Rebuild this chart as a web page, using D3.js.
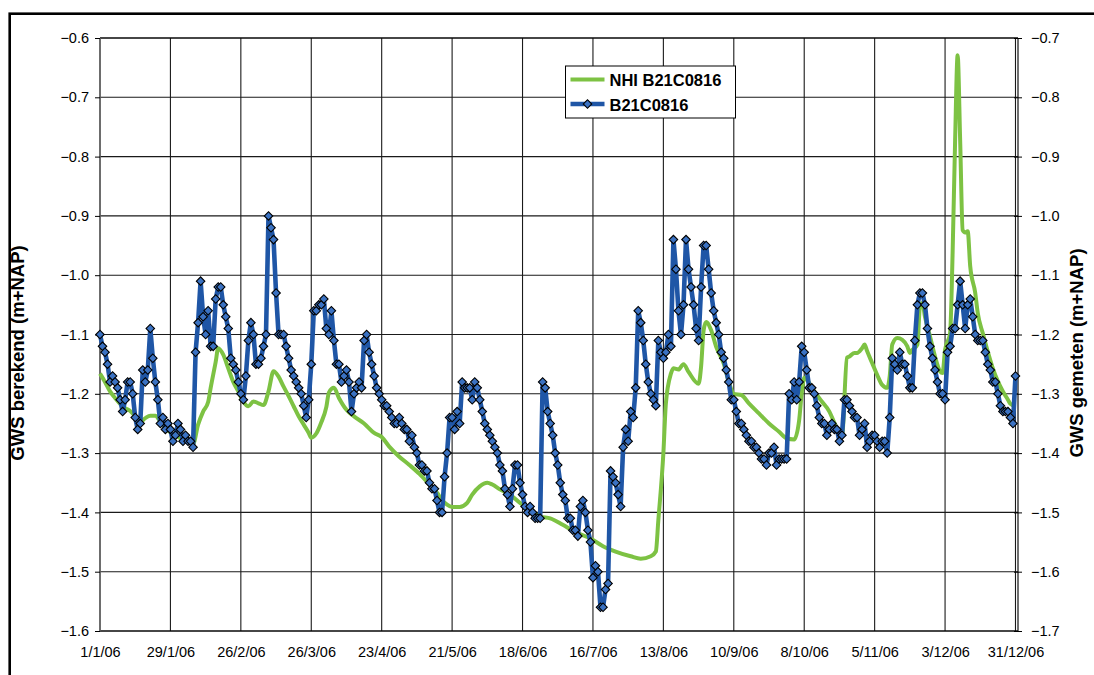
<!DOCTYPE html>
<html>
<head>
<meta charset="utf-8">
<script src="https://cdn.jsdelivr.net/npm/d3@7"></script>
<style>
  body { margin: 0; background: #fff; }
  svg { display: block; }
  text { font-family: "Liberation Sans", Arial, sans-serif; fill: #000; }
</style>
</head>
<body>
<svg id="chart" width="1094" height="675"></svg>
<script>
// ---- data -------------------------------------------------------------
const yearStart = new Date(2006, 0, 1);
const xTickDays = [0, 28, 56, 84, 112, 140, 168, 196, 224, 252, 280, 308, 336, 364];
const leftTicks = [-1.6, -1.5, -1.4, -1.3, -1.2, -1.1, -1.0, -0.9, -0.8, -0.7, -0.6];
const rightTicks = [-1.7, -1.6, -1.5, -1.4, -1.3, -1.2, -1.1, -1.0, -0.9, -0.8, -0.7];

// NHI model result (left axis), day offsets from 1 Jan 2006
const nhiDay = [0,2,4,6,8,10,12,14,16,18,20,22,24,26,28,30,32,34,36,37,39,41,43,44,46,47,49,51,53,55,57,59,61,63,65,67,69,71,73,75,77,79,81,83,84,86,88,90,91,93,95,98,101,105,109,112,115,119,123,127,131,134,136,138,140,143,146,148,151,154,156,159,163,167,171,175,179,184,189,195,200,205,211,215,219,221,222,224,225,227,228,230,232,234,238,239,240,241,243,245,248,250,252,255,258,262,266,270,273,276,278,279,280,282,284,287,290,292,295,297,298,300,301,303,304,305,307,309,311,313,314,315,317,319,321,322,323,325,326,327,328,330,332,334,335,336,338,339,340,341,342,343,344,345,346,348,349,351,353,355,357,359,361,362,364];
const nhiValue = [-1.166,-1.18,-1.196,-1.207,-1.217,-1.224,-1.229,-1.238,-1.247,-1.241,-1.237,-1.237,-1.247,-1.258,-1.265,-1.27,-1.275,-1.279,-1.281,-1.285,-1.252,-1.23,-1.214,-1.19,-1.146,-1.123,-1.134,-1.157,-1.18,-1.196,-1.213,-1.221,-1.213,-1.216,-1.219,-1.196,-1.162,-1.171,-1.188,-1.204,-1.221,-1.238,-1.252,-1.266,-1.274,-1.267,-1.248,-1.222,-1.198,-1.19,-1.207,-1.227,-1.238,-1.25,-1.266,-1.273,-1.289,-1.306,-1.32,-1.335,-1.353,-1.367,-1.379,-1.387,-1.391,-1.391,-1.384,-1.37,-1.356,-1.35,-1.353,-1.361,-1.37,-1.384,-1.395,-1.407,-1.41,-1.421,-1.433,-1.444,-1.457,-1.466,-1.474,-1.478,-1.474,-1.466,-1.413,-1.30,-1.216,-1.166,-1.157,-1.159,-1.15,-1.163,-1.183,-1.154,-1.093,-1.079,-1.093,-1.121,-1.149,-1.18,-1.2,-1.202,-1.216,-1.233,-1.25,-1.264,-1.275,-1.277,-1.244,-1.199,-1.173,-1.182,-1.196,-1.213,-1.23,-1.249,-1.272,-1.139,-1.137,-1.131,-1.131,-1.123,-1.117,-1.128,-1.148,-1.168,-1.185,-1.19,-1.17,-1.117,-1.106,-1.109,-1.12,-1.131,-1.126,-1.117,-1.053,-1.047,-1.07,-1.103,-1.137,-1.162,-1.165,-1.126,-1.098,-0.963,-0.772,-0.629,-0.772,-0.924,-0.928,-0.926,-0.985,-1.03,-1.064,-1.098,-1.129,-1.157,-1.179,-1.196,-1.21,-1.217,-1.221];

// Daily measured heads B21C0816 (right axis), 1 Jan .. 31 Dec 2006
const measured = [
  -1.20,-1.22,-1.23,-1.25,-1.28,-1.27,-1.28,-1.29,-1.31,-1.33,
  -1.31,-1.28,-1.28,-1.30,-1.34,-1.36,-1.35,-1.26,-1.28,-1.26,
  -1.19,-1.24,-1.28,-1.31,-1.35,-1.34,-1.36,-1.35,-1.36,-1.38,
  -1.37,-1.35,-1.36,-1.38,-1.37,-1.38,-1.38,-1.39,-1.23,-1.18,
  -1.11,-1.17,-1.20,-1.16,-1.22,-1.22,-1.14,-1.12,-1.12,-1.15,
  -1.17,-1.19,-1.24,-1.25,-1.26,-1.28,-1.30,-1.31,-1.27,-1.21,
  -1.18,-1.20,-1.25,-1.25,-1.24,-1.22,-1.20,-1.00,-1.02,-1.04,
  -1.13,-1.20,-1.20,-1.20,-1.22,-1.24,-1.26,-1.27,-1.28,-1.29,
  -1.30,-1.32,-1.34,-1.31,-1.25,-1.16,-1.16,-1.15,-1.15,-1.14,
  -1.19,-1.20,-1.16,-1.21,-1.25,-1.25,-1.28,-1.27,-1.26,-1.28,
  -1.33,-1.30,-1.29,-1.28,-1.29,-1.21,-1.20,-1.23,-1.25,-1.27,
  -1.29,-1.30,-1.31,-1.32,-1.32,-1.33,-1.34,-1.35,-1.35,-1.34,
  -1.35,-1.36,-1.36,-1.38,-1.37,-1.39,-1.40,-1.42,-1.42,-1.43,
  -1.43,-1.45,-1.46,-1.46,-1.48,-1.50,-1.50,-1.44,-1.40,-1.34,
  -1.34,-1.36,-1.33,-1.35,-1.28,-1.29,-1.29,-1.29,-1.31,-1.28,
  -1.29,-1.31,-1.33,-1.35,-1.36,-1.37,-1.38,-1.39,-1.40,-1.42,
  -1.43,-1.46,-1.47,-1.49,-1.46,-1.42,-1.42,-1.45,-1.47,-1.49,
  -1.50,-1.49,-1.50,-1.51,-1.51,-1.51,-1.28,-1.29,-1.33,-1.35,
  -1.37,-1.40,-1.42,-1.45,-1.47,-1.48,-1.51,-1.51,-1.53,-1.53,
  -1.54,-1.49,-1.48,-1.50,-1.53,-1.55,-1.61,-1.59,-1.60,-1.66,
  -1.66,-1.63,-1.62,-1.43,-1.44,-1.45,-1.47,-1.49,-1.39,-1.36,
  -1.38,-1.33,-1.34,-1.29,-1.16,-1.18,-1.21,-1.25,-1.28,-1.30,
  -1.31,-1.32,-1.21,-1.23,-1.24,-1.23,-1.20,-1.22,-1.04,-1.09,
  -1.16,-1.20,-1.15,-1.04,-1.09,-1.12,-1.15,-1.19,-1.21,-1.12,
  -1.05,-1.05,-1.09,-1.13,-1.16,-1.18,-1.20,-1.23,-1.24,-1.26,
  -1.28,-1.31,-1.31,-1.33,-1.35,-1.35,-1.36,-1.37,-1.38,-1.38,
  -1.39,-1.39,-1.40,-1.41,-1.41,-1.42,-1.40,-1.40,-1.39,-1.42,
  -1.41,-1.41,-1.41,-1.41,-1.30,-1.31,-1.28,-1.31,-1.28,-1.22,
  -1.23,-1.26,-1.29,-1.29,-1.30,-1.32,-1.34,-1.35,-1.35,-1.37,
  -1.36,-1.35,-1.36,-1.36,-1.38,-1.37,-1.31,-1.31,-1.32,-1.33,
  -1.34,-1.34,-1.37,-1.36,-1.35,-1.39,-1.38,-1.37,-1.37,-1.38,
  -1.39,-1.38,-1.38,-1.40,-1.34,-1.24,-1.25,-1.26,-1.23,-1.25,
  -1.25,-1.27,-1.29,-1.29,-1.21,-1.15,-1.13,-1.13,-1.15,-1.19,
  -1.22,-1.24,-1.26,-1.28,-1.30,-1.30,-1.31,-1.23,-1.22,-1.19,
  -1.19,-1.15,-1.11,-1.15,-1.19,-1.15,-1.14,-1.17,-1.20,-1.21,
  -1.21,-1.21,-1.23,-1.25,-1.26,-1.28,-1.28,-1.30,-1.32,-1.33,
  -1.33,-1.33,-1.34,-1.35,-1.27
];

const seriesNames = ["NHI B21C0816", "B21C0816"];
const leftTitle = "GWS berekend (m+NAP)";
const rightTitle = "GWS gemeten (m+NAP)";

// ---- layout -------------------------------------------------------------
const plot = { left: 100, right: 1018, top: 38, bottom: 631 };
const green = "#7dc243";
const blue = "#1f56a6";
const markerFill = "#3b72c2";

const svg = d3.select("#chart");
const day = d => d3.timeDay.offset(yearStart, d);

const x = d3.scaleTime()
  .domain([yearStart, new Date(2007, 0, 1)])
  .range([plot.left, plot.right]);
const yL = d3.scaleLinear().domain([-1.6, -0.6]).range([plot.bottom, plot.top]);
const yR = d3.scaleLinear().domain([-1.7, -0.7]).range([plot.bottom, plot.top]);

// outer chart frame
svg.append("rect")
  .attr("x", 9.7).attr("y", 13.7)
  .attr("width", 1200).attr("height", 1000)
  .attr("fill", "none").attr("stroke", "#000").attr("stroke-width", 2.6);

// gridlines
const grid = svg.append("g");
grid.selectAll("line.h").data(leftTicks).join("line")
  .attr("x1", plot.left).attr("x2", plot.right)
  .attr("y1", d => yL(d)).attr("y2", d => yL(d))
  .attr("stroke", "#1a1a1a").attr("stroke-width", 1.1);
grid.selectAll("line.v").data(xTickDays).join("line")
  .attr("x1", d => x(day(d))).attr("x2", d => x(day(d)))
  .attr("y1", plot.top).attr("y2", plot.bottom)
  .attr("stroke", "#1a1a1a").attr("stroke-width", 1.1);

// plot border
svg.append("line").attr("x1", plot.left).attr("x2", plot.right)
  .attr("y1", plot.top).attr("y2", plot.top).attr("stroke", "#000").attr("stroke-width", 1);
svg.append("line").attr("x1", plot.left).attr("x2", plot.right)
  .attr("y1", plot.bottom).attr("y2", plot.bottom).attr("stroke", "#000").attr("stroke-width", 1.2);
svg.append("line").attr("x1", plot.left).attr("x2", plot.left)
  .attr("y1", plot.top).attr("y2", plot.bottom).attr("stroke", "#666").attr("stroke-width", 1.5);
svg.append("line").attr("x1", plot.right).attr("x2", plot.right)
  .attr("y1", plot.top).attr("y2", plot.bottom).attr("stroke", "#111").attr("stroke-width", 1.2);

// axes
const fmt = d3.format(".1f");
const leftAxis = svg.append("g")
  .attr("transform", `translate(${plot.left},0)`)
  .call(d3.axisLeft(yL).tickValues(leftTicks).tickSize(5).tickPadding(6).tickFormat(fmt));
const rightAxis = svg.append("g")
  .attr("transform", `translate(${plot.right},0)`)
  .call(d3.axisRight(yR).tickValues(rightTicks).tickSize(4).tickPadding(9).tickFormat(fmt));
const bottomAxis = svg.append("g")
  .attr("transform", `translate(0,${plot.bottom})`)
  .call(d3.axisBottom(x).tickValues(xTickDays.map(day)).tickSize(0).tickPadding(16)
    .tickFormat(d3.timeFormat("%-d/%-m/%y")));
[leftAxis, rightAxis, bottomAxis].forEach(g => {
  g.select(".domain").remove();
  g.selectAll("text").style("font-size", "14.5px")
    .style("font-family", '"Liberation Sans", Arial, sans-serif');
  g.selectAll(".tick line").attr("stroke", "#000");
});
rightAxis.selectAll(".tick line").attr("x1", -4);

// axis titles
svg.append("text")
  .attr("transform", "translate(24,353) rotate(-90)")
  .attr("text-anchor", "middle")
  .style("font-size", "18.5px").style("font-weight", "bold")
  .text(leftTitle);
svg.append("text")
  .attr("transform", "translate(1083,353) rotate(-90)")
  .attr("text-anchor", "middle")
  .style("font-size", "18.5px").style("font-weight", "bold")
  .text(rightTitle);

// NHI model line
const nhiData = nhiDay.map((d, i) => ({ date: day(d), v: nhiValue[i] }));
svg.append("path")
  .datum(nhiData)
  .attr("fill", "none")
  .attr("stroke", green).attr("stroke-width", 4)
  .attr("stroke-linejoin", "round")
  .attr("d", d3.line().x(d => x(d.date)).y(d => yL(d.v)).curve(d3.curveMonotoneX));

// measured line with diamond markers
const obsData = measured.map((v, i) => ({ date: day(i), v }));
svg.append("path")
  .datum(obsData)
  .attr("fill", "none")
  .attr("stroke", blue).attr("stroke-width", 4.6)
  .attr("stroke-linejoin", "round")
  .attr("d", d3.line().x(d => x(d.date)).y(d => yR(d.v)));

const diamond = d3.symbol(d3.symbolSquare, 36)();
svg.append("g").selectAll("path").data(obsData).join("path")
  .attr("d", diamond)
  .attr("transform", d => `translate(${x(d.date)},${yR(d.v)}) rotate(45)`)
  .attr("fill", markerFill).attr("stroke", "#000").attr("stroke-width", 1.1);

// legend
const lg = svg.append("g").attr("transform", "translate(565.5,66)");
lg.append("rect").attr("width", 170).attr("height", 52)
  .attr("fill", "#fff").attr("stroke", "#000").attr("stroke-width", 1);
lg.append("line").attr("x1", 5).attr("x2", 39).attr("y1", 13.5).attr("y2", 13.5)
  .attr("stroke", green).attr("stroke-width", 4);
lg.append("line").attr("x1", 5).attr("x2", 39).attr("y1", 38).attr("y2", 38)
  .attr("stroke", blue).attr("stroke-width", 4.6);
lg.append("path").attr("d", diamond)
  .attr("transform", "translate(22,38) rotate(45)")
  .attr("fill", markerFill).attr("stroke", "#000").attr("stroke-width", 1.1);
lg.selectAll("text.item").data(seriesNames).join("text")
  .attr("x", 44).attr("y", (d, i) => 20 + i * 25)
  .style("font-size", "16.5px").style("font-weight", "bold")
  .text(d => d);
</script>
</body>
</html>
